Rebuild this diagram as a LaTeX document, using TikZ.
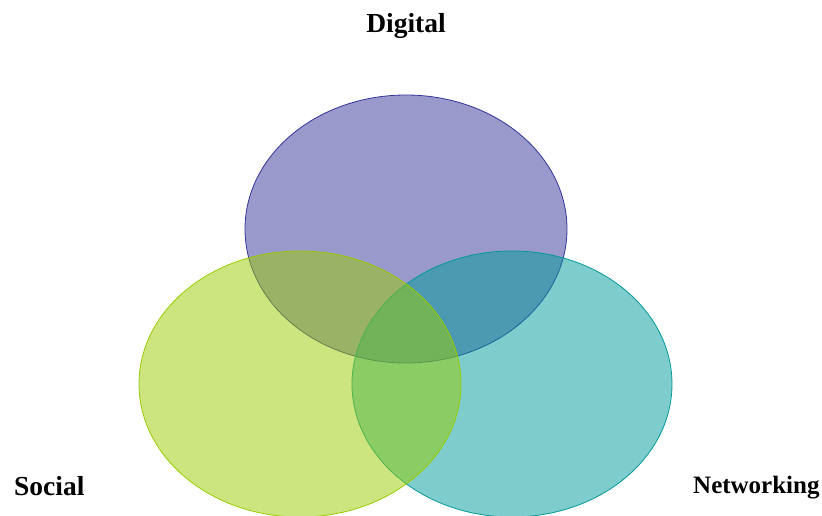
\documentclass[tikz,border=0pt]{standalone}
\usepackage{fontspec}
\setmainfont{Liberation Serif}
\definecolor{purp}{HTML}{333399}
\definecolor{grn}{HTML}{99CC00}
\definecolor{tea}{HTML}{009999}
\begin{document}
\begin{tikzpicture}[x=1pt,y=-1pt,
  setcircle/.style={fill opacity=0.5, draw opacity=1, line width=0.8pt},
  lbl/.style={inner sep=0pt, font=\bfseries}]
\useasboundingbox (0,0) rectangle (822,516);
\begin{scope}
\clip (0,0) rectangle (822,516);
\draw[setcircle, draw=purp, fill=purp] (406,229) ellipse [x radius=161, y radius=134];
\draw[setcircle, draw=tea, fill=tea] (512,384) ellipse [x radius=160, y radius=133];
\draw[setcircle, draw=grn, fill=grn] (300,384) ellipse [x radius=161, y radius=133];
\end{scope}
\node[lbl, font=\fontsize{27.5}{30}\selectfont\bfseries, anchor=base] (digital) at (406,33) {Digital};
\node[lbl, font=\fontsize{27.5}{30}\selectfont\bfseries, anchor=base west] (social) at (14,495) {Social};
\node[lbl, font=\fontsize{25}{28}\selectfont\bfseries, anchor=base west] (networking) at (693,493) {Networking};
\end{tikzpicture}
\end{document}
